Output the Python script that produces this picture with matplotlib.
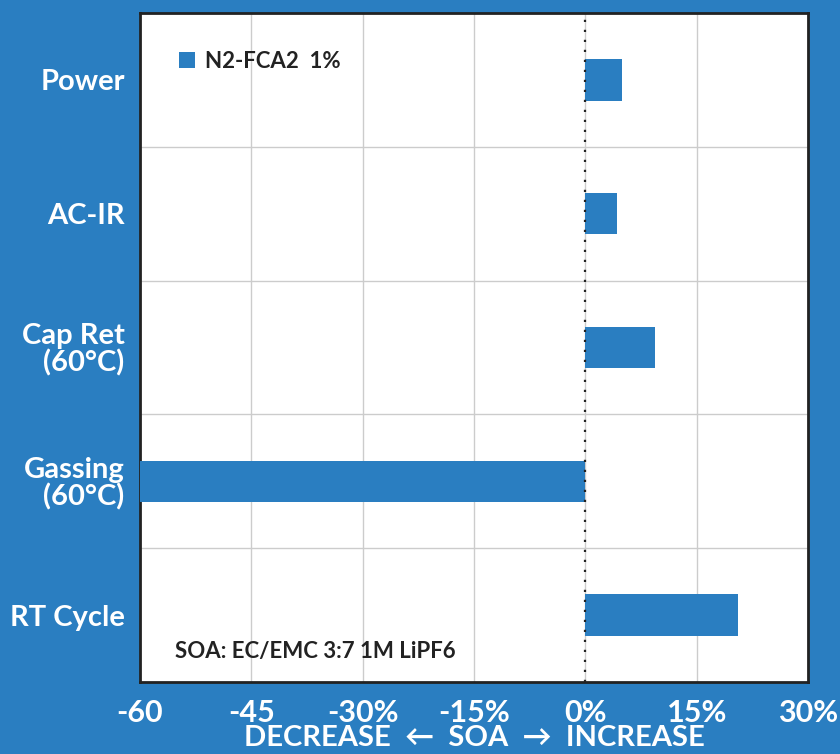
import numpy as np
import matplotlib
matplotlib.use('Agg')
import matplotlib.pyplot as plt

# data
categories = ['Power', 'AC-IR', 'Cap Ret\n(60°C)', 'Gassing\n(60°C)', 'RT Cycle']
values = [5.0, 4.2, 9.4, -60.0, 20.6]
tick_values = [-60, -45, -30, -15, 0, 15, 30]
tick_labels = ['-60', '-45', '-30%', '-15%', '0%', '15%', '30%']
series_name = 'N2-FCA2  1%'
note = 'SOA: EC/EMC 3:7 1M LiPF6'

blue = '#2a7ec1'
plt.rcParams['font.family'] = ['Lato', 'DejaVu Sans']

fig = plt.figure(figsize=(8.4, 7.54), dpi=100, facecolor=blue)
ax = fig.add_axes([140/840, 72/754, 668/840, 669/754])
ax.set_facecolor('white')

y = np.arange(len(categories))
ax.barh(y, values, height=0.31, color=blue, label=series_name, zorder=3)

ax.set_xlim(-60, 30)
ax.set_ylim(len(categories) - 0.5, -0.5)

ax.set_xticks(tick_values)
ax.set_xticklabels(tick_labels)
ax.set_yticks(y)
ax.set_yticklabels(categories)
ax.set_yticks(np.arange(len(categories) - 1) + 0.5, minor=True)

ax.grid(axis='x', which='major', color='#cccccc', lw=1, zorder=0)
ax.grid(axis='y', which='minor', color='#cccccc', lw=1, zorder=0)
ax.axvline(0, color='#222222', ls=(0, (1, 3.5)), lw=1.6, zorder=4)

ax.tick_params(axis='both', which='both', length=0)
ax.tick_params(axis='x', colors='white', labelsize=22, pad=12)
ax.tick_params(axis='y', colors='white', labelsize=21, pad=11)
for lab in ax.get_xticklabels() + ax.get_yticklabels():
    lab.set_fontweight('bold')
for lab in ax.get_yticklabels():
    lab.set_horizontalalignment('right')
    lab.set_linespacing(1.0)

for s in ax.spines.values():
    s.set_color('#222222')
    s.set_linewidth(2)

ax.set_xlabel('DECREASE  \u2190  SOA  \u2192  INCREASE', color='white',
              fontsize=21, fontweight='bold', labelpad=-1)

leg = ax.legend(loc='upper left', bbox_to_anchor=(0.028, 0.973), frameon=False,
                fontsize=16, handlelength=0.75, handleheight=0.75, handletextpad=0.45)
for t in leg.get_texts():
    t.set_fontweight('bold')
    t.set_color('#222222')

ax.text(0.053, 0.045, note, transform=ax.transAxes, fontsize=16,
        fontweight='bold', color='#222222', va='center', ha='left')

fig.savefig('out.png', dpi=100, facecolor=blue)
